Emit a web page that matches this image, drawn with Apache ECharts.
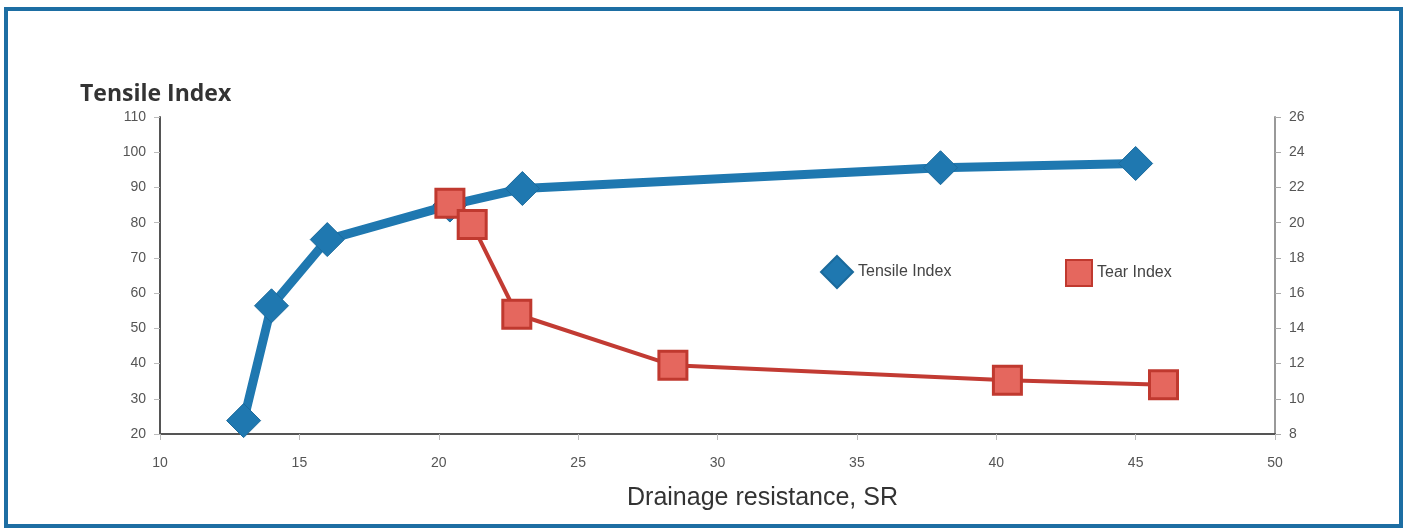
<!DOCTYPE html>
<html>
<head>
<meta charset="utf-8">
<script src="https://cdn.jsdelivr.net/npm/echarts@6/dist/echarts.min.js"></script>
<style>
	html, body { margin: 0; padding: 0; background: #fff; }
	#main { width: 1416px; height: 531px; }
</style>
</head>
<body>
<div id="main"></div>
<script>
// drainage resistance (SR) / tensile index
var tensileX = [13, 14, 16, 20.4, 23, 38, 45];
var tensileY = [23.8, 56.4, 75.2, 85, 89.7, 95.6, 96.8];
// drainage resistance (SR) / tear index
var tearX = [20.4, 21.2, 22.8, 28.4, 40.4, 46];
var tearY = [21.1, 19.9, 14.8, 11.9, 11.05, 10.8];

function pairs(xs, ys) {
	var out = [];
	for (var i = 0; i < xs.length; i++) {
		out.push([xs[i], ys[i]]);
	}
	return out;
}

var blue = '#1f78b0';
var red = '#c23b33';

var myChart = echarts.init(document.getElementById('main'));
var option = {
	backgroundColor: '#fff',
	animation: false,
	graphic: [{
		type: 'rect',
		shape: { x: 6, y: 9, width: 1395, height: 517 },
		style: { fill: 'none', stroke: '#1d6ea3', lineWidth: 4 },
		z: 100
	}, {
		type: 'text',
		left: 80,
		top: 83,
		style: {
			text: 'Tensile Index',
			fill: '#333',
			font: 'bold 23px "Open Sans"'
		}
	}],
	grid: {
		left: 160,
		right: 141,
		top: 117,
		bottom: 97
	},
	legend: [{
		left: 815,
		top: 250,
		itemWidth: 32,
		itemHeight: 32,
		itemGap: 4,
		textStyle: { color: '#444', fontSize: 16, fontFamily: 'Liberation Sans' },
		data: [{ name: 'Tensile Index', icon: 'diamond' }]
	}, {
		left: 1060,
		top: 254,
		itemWidth: 26,
		itemHeight: 26,
		textStyle: { color: '#444', fontSize: 16, fontFamily: 'Liberation Sans' },
		data: [{ name: 'Tear Index', icon: 'rect' }]
	}],
	xAxis: {
		type: 'value',
		min: 10,
		max: 50,
		interval: 5,
		name: 'Drainage resistance, SR',
		nameLocation: 'middle',
		nameGap: 52,
		nameTextStyle: { color: '#333', fontSize: 25, fontFamily: 'Liberation Sans', padding: [0, 0, 0, 90] },
		splitLine: { show: false },
		axisLine: { lineStyle: { color: '#555', width: 2 } },
		axisTick: { length: 6, lineStyle: { color: '#bbb' } },
		axisLabel: { color: '#555', fontSize: 14, fontFamily: 'Liberation Sans', margin: 22 }
	},
	yAxis: [{
		type: 'value',
		min: 20,
		max: 110,
		interval: 10,
		splitLine: { show: false },
		axisLine: { show: true, lineStyle: { color: '#555', width: 2 } },
		axisTick: { show: true, length: 6, lineStyle: { color: '#bbb' } },
		axisLabel: { color: '#555', fontSize: 14, fontFamily: 'Liberation Sans', margin: 14 }
	}, {
		type: 'value',
		min: 8,
		max: 26,
		interval: 2,
		position: 'right',
		splitLine: { show: false },
		axisLine: { show: true, lineStyle: { color: '#999', width: 2 } },
		axisTick: { show: true, length: 6, lineStyle: { color: '#aaa' } },
		axisLabel: { color: '#555', fontSize: 14, fontFamily: 'Liberation Sans', margin: 14 }
	}],
	series: [{
		name: 'Tensile Index',
		type: 'line',
		yAxisIndex: 0,
		data: pairs(tensileX, tensileY),
		symbol: 'diamond',
		symbolSize: 34,
		lineStyle: { color: blue, width: 9 },
		itemStyle: { color: blue, borderColor: '#1a6a9c', borderWidth: 1 },
		z: 2
	}, {
		name: 'Tear Index',
		type: 'line',
		yAxisIndex: 1,
		data: pairs(tearX, tearY),
		symbol: 'rect',
		symbolSize: 28,
		lineStyle: { color: red, width: 4 },
		itemStyle: { color: '#e5675e', borderColor: '#c0392f', borderWidth: 3 },
		z: 3
	}]
};
myChart.setOption(option);
</script>
</body>
</html>
